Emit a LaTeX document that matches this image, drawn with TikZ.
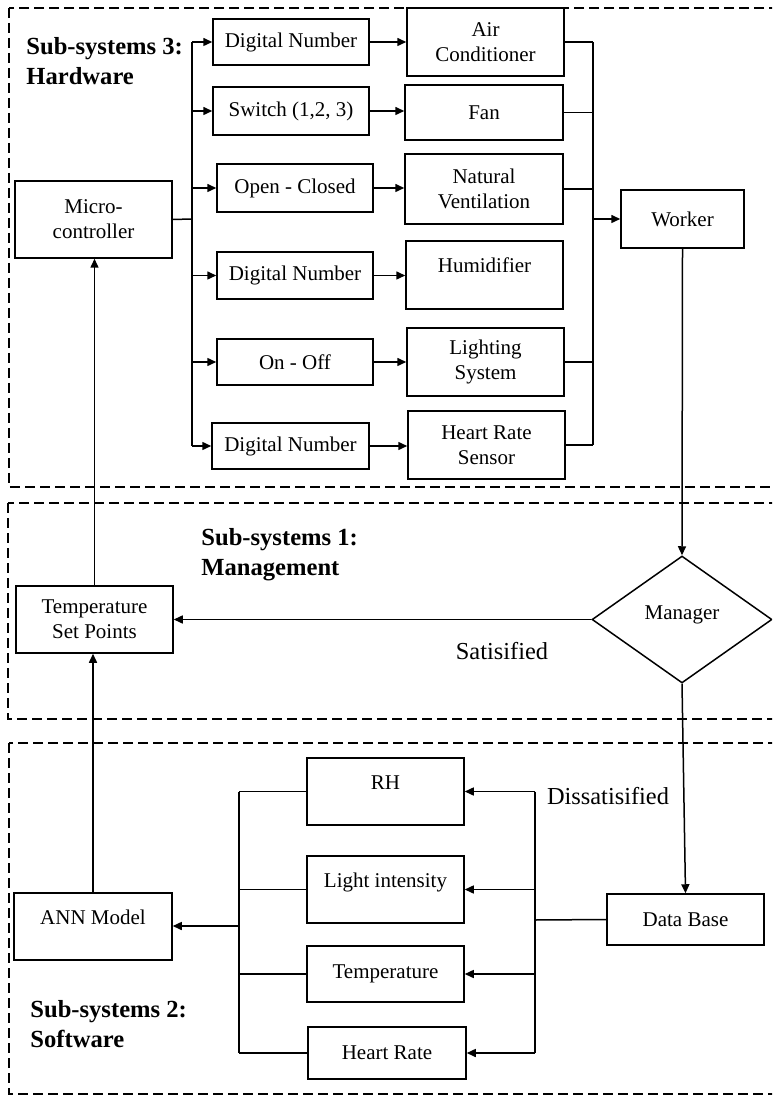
\documentclass[tikz,border=0pt]{standalone}
\usepackage{fontspec}
\setmainfont{Liberation Serif}
\usepackage{tikz}
\usetikzlibrary{arrows.meta, shapes.geometric, calc}

\tikzset{
	box/.style={draw, line width=0.75pt, align=center, inner sep=0pt, font=\fontsize{10.5}{12.5}\selectfont},
	raised/.style={text height=7pt, text depth=9pt},
	panel/.style={draw, line width=0.6pt, dash pattern=on 5pt off 2.5pt},
	title/.style={anchor=west, align=left, inner sep=0pt, font=\fontsize{12.3}{15}\selectfont\bfseries},
	answer/.style={inner sep=0pt, font=\fontsize{12.2}{14}\selectfont},
	link/.style={line width=0.75pt},
	arrowlink/.style={line width=0.75pt, -{Triangle[length=4.5pt,width=4pt]}}
}

\begin{document}
\begin{tikzpicture}[x=0.5pt, y=-0.5pt]
	\clip (0,0) rectangle (772,1095);
	\fill[white] (0,0) rectangle (772,1095);

	\draw[panel] (9,8) rectangle (800,487);
	\draw[panel] (8,503) rectangle (800,719);
	\draw[panel] (9,743) rectangle (800,1094);

	\node[title] (hwtitle) at (26,61) {Sub-systems 3:\\Hardware};
	\node[title] (mgtitle) at (201,555) {Sub-systems 1:\\Management};
	\node[title] (swtitle) at (30,1024) {Sub-systems 2:\\Software};

	\node[box, minimum width=78.5pt, minimum height=38.5pt] (micro) at (93.5,219.5) {Micro-\\controller};

	\node[box, minimum width=78pt, minimum height=23pt] (dnA) at (291,42) {Digital Number};
	\node[box, minimum width=78pt, minimum height=24pt] (switch) at (291,111) {Switch (1,2, 3)};
	\node[box, minimum width=78pt, minimum height=24pt] (openclosed) at (295,188) {Open - Closed};
	\node[box, minimum width=78pt, minimum height=23.5pt] (dnB) at (295,275.5) {Digital Number};
	\node[box, minimum width=78pt, minimum height=23pt] (onoff) at (295,362) {On - Off};
	\node[box, minimum width=78.5pt, minimum height=23pt] (dnC) at (290.5,446) {Digital Number};

	\node[box, minimum width=78.5pt, minimum height=34pt] (aircon) at (485.5,42) {Air\\Conditioner};
	\node[box, minimum width=79pt, minimum height=27.5pt] (fan) at (484,112.5) {Fan};
	\node[box, minimum width=79pt, minimum height=35pt] (natvent) at (484,189) {Natural\\Ventilation};
	\node[box, raised, minimum width=78.5pt, minimum height=34pt] (humid) at (484.5,275) {Humidifier};
	\node[box, minimum width=78.5pt, minimum height=34pt] (lighting) at (485.5,362) {Lighting\\System};
	\node[box, minimum width=78.5pt, minimum height=34pt] (hrsensor) at (486.5,445) {Heart Rate\\Sensor};

	\node[box, minimum width=61.5pt, minimum height=29pt] (worker) at (682.5,219) {Worker};

	\node[box, diamond, text height=7pt, text depth=7pt, minimum width=90pt, minimum height=63.5pt] (manager) at (682,619.5) {Manager};
	\node[box, minimum width=78.5pt, minimum height=33.5pt] (setpoints) at (94.5,619.5) {Temperature\\Set Points};

	\node[box, minimum width=78.5pt, minimum height=25.5pt] (database) at (685.5,919.5) {Data Base};
	\node[box, raised, minimum width=78.5pt, minimum height=33.5pt] (rh) at (385.5,791.5) {RH};
	\node[box, raised, minimum width=78.5pt, minimum height=33.5pt] (light) at (385.5,889.5) {Light intensity};
	\node[box, minimum width=78.5pt, minimum height=28pt] (temp) at (385.5,974) {Temperature};
	\node[box, minimum width=79pt, minimum height=26pt] (heartrate) at (387,1053) {Heart Rate};
	\node[box, raised, minimum width=79pt, minimum height=33.5pt] (ann) at (93,926.5) {ANN Model};

	\node[answer] (satisfied) at (502,651) {Satisified};
	\node[answer] (dissatisfied) at (608,796) {Dissatisified};

	\coordinate (hwbus) at (192,219);
	\coordinate (outbus) at (593,219);
	\coordinate (dbbus) at (535,920);
	\coordinate (annbus) at (239,926);

	\draw[link] (micro.east) -- (hwbus);
	\draw[link] (hwbus |- dnA.west) -- (hwbus |- dnC.west);
	\foreach \n in {dnA, switch, openclosed, dnB, onoff, dnC}
		\draw[arrowlink] (hwbus |- \n.west) -- (\n.west);

	\foreach \a/\b in {dnA/aircon, switch/fan, openclosed/natvent, dnB/humid, onoff/lighting, dnC/hrsensor}
		\draw[arrowlink] (\a.east) -- (\a.east -| \b.west);

	\foreach \n in {aircon, fan, natvent, lighting, hrsensor}
		\draw[link] (\n.east) -- (\n.east -| outbus);
	\draw[link] (outbus |- aircon.east) -- (outbus |- hrsensor.east);
	\draw[arrowlink] (outbus) -- (worker.west);

	\draw[arrowlink] (worker.south) -- (manager.north);
	\draw[arrowlink] (manager.west) -- (manager.west -| setpoints.east);
	\draw[arrowlink] (setpoints.north) -- (setpoints.north |- micro.south);
	\draw[arrowlink] (manager.south) -- (database.north);

	\draw[link] (database.west) -- (dbbus);
	\draw[link] (dbbus |- rh.east) -- (dbbus |- heartrate.east);
	\foreach \n in {rh, light, temp, heartrate}
		\draw[arrowlink] (dbbus |- \n.east) -- (\n.east);

	\foreach \n in {rh, light, temp, heartrate}
		\draw[link] (\n.west) -- (\n.west -| annbus);
	\draw[link] (annbus |- rh.west) -- (annbus |- heartrate.west);
	\draw[arrowlink] (annbus) -- (annbus -| ann.east);
	\draw[arrowlink] (ann.north) -- (ann.north |- setpoints.south);
\end{tikzpicture}
\end{document}
